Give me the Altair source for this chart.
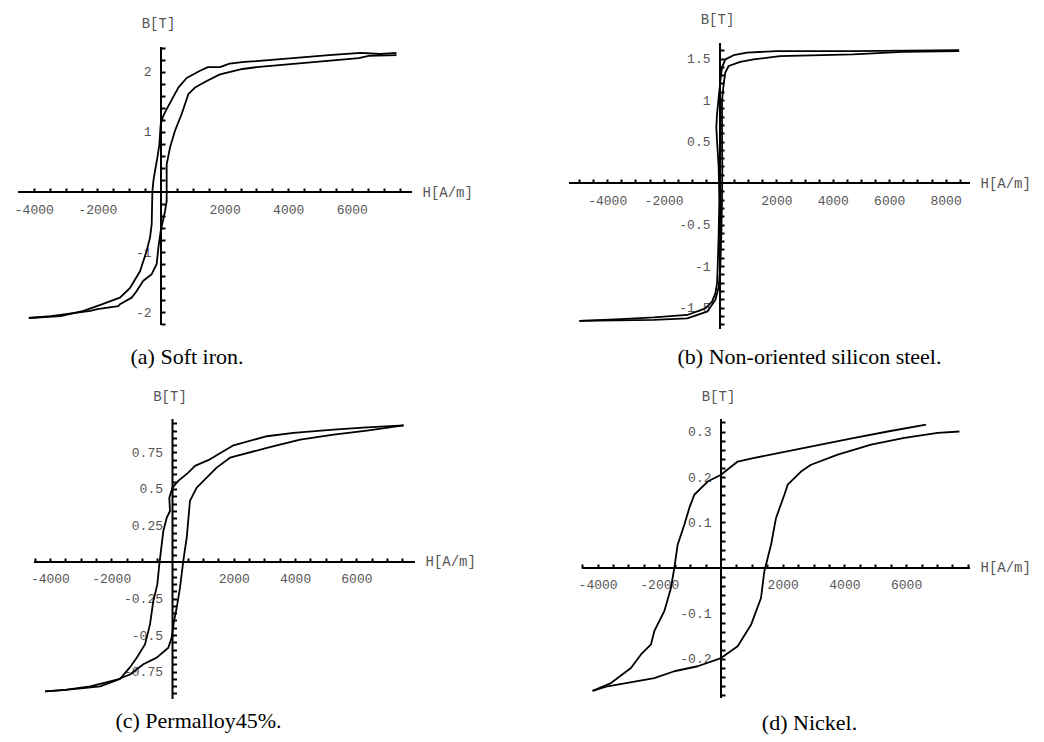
import math
import json
import altair as alt
import pandas as pd

# ---------------- data ----------------
# (a) Soft iron
a_up_H = [7406, 6900, 6281, 5281, 3000, 2625, 2156, 1855, 1478, 1226, 807, 545, 178, 72, -10, -52, -115, -189,
          -241, -272, -293, -346, -450, -660, -975, -1290, -1906, -2437, -3156, -4156]
a_up_B = [2.32, 2.30, 2.32, 2.28, 2.18, 2.17, 2.14, 2.08, 2.08, 2.02, 1.90, 1.74, 1.38, 1.27, 1.13, 0.79, 0.57, 0.35,
          0.18, 0.0, -0.54, -0.76, -0.98, -1.32, -1.60, -1.76, -1.88, -1.98, -2.07, -2.10]
a_lo_H = [-4156, -3469, -2219, -2000, -1344, -1290, -922, -765, -556, -293, -136, -84, -10, 126, 178, 178, 283, 440,
          650, 859, 1069, 1436, 1855, 2562, 3000, 6219, 6531, 7406]
a_lo_B = [-2.10, -2.07, -1.98, -1.95, -1.90, -1.87, -1.76, -1.65, -1.48, -1.37, -1.20, -0.93, -0.65, -0.32, -0.15,
          0.46, 0.74, 1.02, 1.30, 1.63, 1.74, 1.85, 1.96, 2.05, 2.08, 2.23, 2.27, 2.28]

# (b) Non-oriented silicon steel
b_up_H = [8480, 4716, 2011, 953, 482, 188, 71, 12, -47, -106, -130, -106, -47, -24, -47, -82, -106, -165, -282,
          -518, -1164, -2340, -3516, -4987]
b_up_B = [1.60, 1.59, 1.59, 1.57, 1.54, 1.49, 1.39, 1.23, 1.03, 0.83, 0.67, 0.51, 0.19, -0.21, -0.61, -1.01, -1.21,
          -1.33, -1.43, -1.51, -1.59, -1.62, -1.64, -1.66]
b_lo_H = [-4987, -2340, -1164, -459, -165, -47, 12, 47, 71, 82, 71, 71, 129, 188, 306, 717, 1188, 2129, 4716, 6480,
          8480]
b_lo_B = [-1.66, -1.65, -1.63, -1.55, -1.41, -1.25, -1.01, -0.61, -0.21, 0.19, 0.59, 0.99, 1.19, 1.33, 1.41, 1.46,
          1.49, 1.53, 1.55, 1.58, 1.59]

# (c) Permalloy45%
c_up_H = [7540, 6343, 5255, 3949, 3079, 1991, 1222, 733, 515, 189, 0, -104, -82, -189, -300, -352, -430, -495, -626,
          -734, -897, -1167, -1386, -1708, -2361, -2905, -3667, -4156]
c_up_B = [0.936, 0.922, 0.906, 0.884, 0.861, 0.799, 0.703, 0.658, 0.612, 0.555, 0.509, 0.440, 0.349, 0.303, 0.212,
          0.121, -0.016, -0.153, -0.267, -0.427, -0.564, -0.655, -0.72, -0.80, -0.852, -0.863, -0.879, -0.886]
c_lo_H = [-4156, -3449, -2687, -2034, -1817, -1386, -952, -515, -137, -26, 49, 137, 245, 352, 463, 570, 789, 1115,
          1441, 1875, 3079, 4167, 5255, 6343, 7540]
c_lo_B = [-0.886, -0.874, -0.852, -0.817, -0.806, -0.77, -0.70, -0.655, -0.587, -0.518, -0.404, -0.313, -0.176, 0.007,
          0.166, 0.418, 0.509, 0.577, 0.646, 0.714, 0.781, 0.838, 0.872, 0.900, 0.936]

# (d) Nickel
d_up_H = [6648, 5405, 4324, 2703, 1081, 541, 0, -432, -865, -1027, -1189, -1405, -1514, -1622, -1838, -2162, -2270,
          -2594, -2919, -3567, -4162]
d_up_B = [0.315, 0.300, 0.286, 0.264, 0.242, 0.234, 0.205, 0.190, 0.161, 0.132, 0.095, 0.051, 0.0, -0.044, -0.095,
          -0.139, -0.168, -0.190, -0.220, -0.253, -0.270]
d_lo_H = [-4162, -3675, -2162, -1514, -757, 0, 541, 973, 1297, 1405, 1622, 1784, 2054, 2162, 2594, 2919, 3784, 4865,
          5946, 7027, 7729]
d_lo_B = [-0.270, -0.260, -0.242, -0.227, -0.216, -0.198, -0.172, -0.125, -0.066, -0.007, 0.051, 0.110, 0.161, 0.183,
          0.212, 0.227, 0.249, 0.271, 0.286, 0.297, 0.300]

captions = ["(a) Soft iron.", "(b) Non-oriented silicon steel.", "(c) Permalloy45%.", "(d) Nickel."]

# axis ranges (scale domain and drawn axis extent) and labelled ticks
a_xdom, a_ydom, a_xext, a_yext = [-4497, 7987], [-2.283, 2.483], [-4496, 7893], [-2.217, 2.417]
b_xdom, b_ydom, b_xext, b_yext = [-5355, 8936], [-1.759, 1.687], [-5355, 8865], [-1.759, 1.687]
c_xdom, c_ydom, c_xext, c_yext = [-5041, 7912], [-0.938, 0.979], [-4519, 7912], [-0.938, 0.979]
d_xdom, d_ydom, d_xext, d_yext = [-4927, 8136], [-0.288, 0.3275], [-4506, 8071], [-0.2857, 0.3275]

a_xlabels, a_ylabels = [-4000, -2000, 2000, 4000, 6000], [-2, -1, 1, 2]
b_xlabels, b_ylabels = [-4000, -2000, 2000, 4000, 6000, 8000], [-1.5, -1, -0.5, 0.5, 1, 1.5]
c_xlabels, c_ylabels = [-4000, -2000, 2000, 4000, 6000], [-0.75, -0.5, -0.25, 0.25, 0.5, 0.75]
d_xlabels, d_ylabels = [-4000, -2000, 2000, 4000, 6000], [-0.2, -0.1, 0.1, 0.2, 0.3]

# ---------------- layout ----------------
COL_W = [397, 403]
ROW_H = [286, 280]
TICK_FONT = "Liberation Mono"
LABEL_COLOR = "#555555"


def tick_values(lo, hi, step):
    k0 = math.ceil(lo / step - 1e-9)
    k1 = math.floor(hi / step + 1e-9)
    return [round(k * step, 6) for k in range(k0, k1 + 1) if k != 0]


def label_expr(labels):
    return f"indexof({json.dumps(labels)}, datum.value) >= 0 ? '' + datum.value : ''"


def panel(upH, upB, loH, loB, xdom, ydom, xext, yext, xstep, ystep, xlabels, ylabels,
          caption, w, h, cap_dx, cap_offset, btitle_y):
    df = pd.DataFrame({
        "H": upH + loH,
        "B": upB + loB,
        "branch": ["upper"] * len(upH) + ["lower"] * len(loH),
        "i": list(range(len(upH))) + list(range(len(loH))),
    })
    # pixel position of the origin inside the plot area
    x0 = w * (0 - xdom[0]) / (xdom[1] - xdom[0])
    y0 = h * (ydom[1] - 0) / (ydom[1] - ydom[0])
    x_end = w * (xext[1] - xdom[0]) / (xdom[1] - xdom[0])

    xs = alt.Scale(domain=xdom, nice=False, zero=False)
    ys = alt.Scale(domain=ydom, nice=False, zero=False)

    xaxis = alt.Axis(
        orient="top", offset=-y0, domain=False, grid=False,
        values=tick_values(xext[0], xext[1], xstep),
        tickSize=4, tickWidth=2, tickColor="black",
        labelExpr=label_expr(xlabels), labelPadding=-21, labelBaseline="middle", labelAlign="center",
        labelFont=TICK_FONT, labelFontSize=13, labelColor=LABEL_COLOR,
        labelOverlap=False, labelFlush=False, labelBound=False,
        title="H[A/m]", titleX=x_end + 10, titleY=0, titleAlign="left", titleBaseline="middle",
        titleAngle=0, titleFont=TICK_FONT, titleFontSize=14, titleFontWeight="normal", titleColor=LABEL_COLOR,
    )
    yaxis = alt.Axis(
        orient="right", offset=-(w - x0), domain=False, grid=False,
        values=tick_values(yext[0], yext[1], ystep),
        tickSize=4, tickWidth=2, tickColor="black",
        labelExpr=label_expr(ylabels), labelPadding=-14, labelBaseline="middle", labelAlign="right",
        labelFont=TICK_FONT, labelFontSize=13, labelColor=LABEL_COLOR,
        labelOverlap=False, labelFlush=False, labelBound=False,
        title="B[T]", titleX=-3, titleY=btitle_y, titleAlign="center", titleBaseline="middle",
        titleAngle=0, titleFont=TICK_FONT, titleFontSize=14, titleFontWeight="normal", titleColor=LABEL_COLOR,
    )

    curves = alt.Chart(df).mark_line(color="black", strokeWidth=1.8, strokeJoin="round").encode(
        x=alt.X("H:Q", scale=xs, axis=xaxis),
        y=alt.Y("B:Q", scale=ys, axis=yaxis),
        detail="branch:N",
        order="i:Q",
    )
    hrule = alt.Chart(pd.DataFrame({"H": [xext[0]], "H2": [xext[1]], "B": [0]})).mark_rule(
        color="black", strokeWidth=2).encode(
        x=alt.X("H:Q", scale=xs, axis=xaxis), x2="H2:Q", y=alt.Y("B:Q", scale=ys, axis=yaxis))
    vrule = alt.Chart(pd.DataFrame({"H": [0], "B": [yext[0]], "B2": [yext[1]]})).mark_rule(
        color="black", strokeWidth=2).encode(
        x=alt.X("H:Q", scale=xs, axis=xaxis), y=alt.Y("B:Q", scale=ys, axis=yaxis), y2="B2:Q")

    return alt.layer(curves, hrule, vrule).properties(
        width=w, height=h,
        view=alt.ViewBackground(stroke="transparent", strokeWidth=0),
        title=alt.TitleParams(text=caption, orient="bottom", anchor="middle", dx=cap_dx, offset=cap_offset,
                              font="Liberation Serif", fontSize=22, fontWeight="normal", color="black"),
    )


pa = panel(a_up_H, a_up_B, a_lo_H, a_lo_B, a_xdom, a_ydom, a_xext, a_yext, 500, 0.2, a_xlabels, a_ylabels,
           captions[0], COL_W[0], ROW_H[0], -29.5, 16, -20)
pb = panel(b_up_H, b_up_B, b_lo_H, b_lo_B, b_xdom, b_ydom, b_xext, b_yext, 500, 0.1, b_xlabels, b_ylabels,
           captions[1], COL_W[1], ROW_H[0], 39, 16, -24)
pc = panel(c_up_H, c_up_B, c_lo_H, c_lo_B, c_xdom, c_ydom, c_xext, c_yext, 500, 0.05, c_xlabels, c_ylabels,
           captions[2], COL_W[0], ROW_H[1], -18, 11, -23)
pd_ = panel(d_up_H, d_up_B, d_lo_H, d_lo_B, d_xdom, d_ydom, d_xext, d_yext, 500, 0.02, d_xlabels, d_ylabels,
            captions[3], COL_W[1], ROW_H[1], 39, 11, -23)

chart = alt.concat(
    pa, pb, pc, pd_, columns=2,
    spacing=alt.RowColnumber(row=90, column=154), bounds="flush",
).properties(
    background="white",
    padding={"left": 6, "top": 4, "right": 5, "bottom": 5},
).configure_view(stroke="transparent", strokeWidth=0)

chart.save("out.html", embed_options={"renderer": "svg", "actions": False})
